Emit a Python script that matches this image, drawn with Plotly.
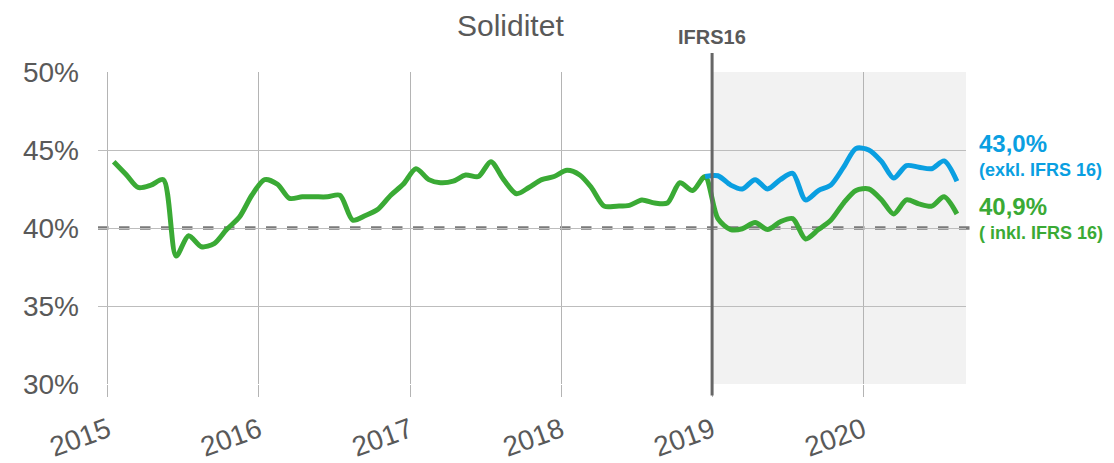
import pandas as pd
import plotly.graph_objects as go

# ---- data ----
dates = pd.date_range("2015-01-01", periods=68, freq="MS") + pd.Timedelta(days=14)
inkl_ifrs16 = [
    44.25, 43.4, 42.6, 42.75, 43.1, 38.2, 39.5, 38.8, 39.0, 39.9, 40.7, 42.1,
    43.1, 42.8, 41.9, 42.0, 42.0, 42.0, 42.1, 40.5, 40.8, 41.2, 42.1, 42.8,
    43.8, 43.1, 42.9, 43.0, 43.4, 43.3, 44.25, 43.1, 42.2, 42.6, 43.1, 43.3,
    43.7, 43.4, 42.6, 41.4, 41.4, 41.45, 41.8, 41.6, 41.6, 42.9, 42.4, 43.3,
    40.6, 39.9, 39.95, 40.35, 39.9, 40.4, 40.6, 39.3, 39.9, 40.5, 41.6, 42.4,
    42.5, 41.8, 40.9, 41.8, 41.55, 41.4, 42.0, 40.9,
]
exkl_start = 47  # Dec 2018
exkl_ifrs16 = [
    43.3, 43.35, 42.75, 42.5, 43.1, 42.5, 43.1, 43.5, 41.8, 42.4, 42.75,
    43.9, 45.1, 45.0, 44.25, 43.2, 44.0, 43.9, 43.8, 44.3, 43.0,
]
year_ticks = ["2015-01-01", "2016-01-01", "2017-01-01", "2018-01-01", "2019-01-01", "2020-01-01"]
year_labels = ["2015", "2016", "2017", "2018", "2019", "2020"]
y_ticks = [30, 35, 40, 45, 50]
ifrs_date = "2019-01-01"
x_range = ["2014-12-08", "2020-09-06"]

GREEN = "#3aaa35"
BLUE = "#0a9fe1"
GREY_TXT = "#595959"
FONT = "Liberation Sans, Arial, sans-serif"

fig = go.Figure()
fig.add_trace(go.Scatter(
    x=dates, y=inkl_ifrs16, mode="lines",
    line=dict(color=GREEN, width=5, shape="spline", smoothing=0.8),
    hoverinfo="skip", showlegend=False,
))
fig.add_trace(go.Scatter(
    x=dates[exkl_start:], y=exkl_ifrs16, mode="lines",
    line=dict(color=BLUE, width=5, shape="spline", smoothing=0.8),
    hoverinfo="skip", showlegend=False,
))

# shaded post-IFRS16 region
fig.add_shape(type="rect", xref="x", yref="paper", x0=ifrs_date, x1=x_range[1],
              y0=0, y1=1, fillcolor="#f2f2f2", line_width=0, layer="below")
# 40% dashed reference line
fig.add_shape(type="line", xref="paper", yref="y", x0=0, x1=1.011, y0=40, y1=40,
              line=dict(color="#7a7a7a", width=3.5, dash="dash"), layer="below")
# IFRS16 vertical line
fig.add_shape(type="line", xref="x", yref="paper", x0=ifrs_date, x1=ifrs_date,
              y0=-0.037, y1=1.061, line=dict(color="#666666", width=3), layer="above")

fig.add_annotation(x=ifrs_date, xref="x", y=1.112, yref="paper", text="<b>IFRS16</b>",
                   showarrow=False, font=dict(family=FONT, size=20, color="#595959"),
                   xanchor="center", yanchor="middle")
fig.add_annotation(x=0.4758, xref="paper", y=1.205, yref="paper", text="Soliditet",
                   showarrow=False, font=dict(family=FONT, size=30, color=GREY_TXT),
                   xanchor="center", yanchor="top", borderpad=0)

# right-hand labels
def px_to_paper_y(py):
    return (384 - py) / 312

fig.add_annotation(x=1.0127, xref="paper", y=px_to_paper_y(143), yref="paper",
                   text="<b>43,0%</b>", showarrow=False, xanchor="left", yanchor="middle",
                   font=dict(family=FONT, size=24, color=BLUE))
fig.add_annotation(x=1.0127, xref="paper", y=px_to_paper_y(170), yref="paper",
                   text="<b>(exkl. IFRS 16)</b>", showarrow=False, xanchor="left", yanchor="middle",
                   font=dict(family=FONT, size=18, color=BLUE))
fig.add_annotation(x=1.0127, xref="paper", y=px_to_paper_y(206), yref="paper",
                   text="<b>40,9%</b>", showarrow=False, xanchor="left", yanchor="middle",
                   font=dict(family=FONT, size=24, color=GREEN))
fig.add_annotation(x=1.0127, xref="paper", y=px_to_paper_y(233), yref="paper",
                   text="<b>( inkl. IFRS 16)</b>", showarrow=False, xanchor="left", yanchor="middle",
                   font=dict(family=FONT, size=18, color=GREEN))

# page body has an 8px default margin; shrink the figure to compensate
fig.update_layout(
    width=1106, height=455,
    margin=dict(l=90, r=148, t=64, b=79, autoexpand=False),
    plot_bgcolor="white", paper_bgcolor="white",
    font=dict(family=FONT, color=GREY_TXT),
    xaxis=dict(
        type="date", range=x_range, tickvals=year_ticks, ticktext=year_labels,
        tickangle=-20, showgrid=True, gridcolor="#b4b4b4", gridwidth=1,
        ticks="outside", ticklen=12, tickcolor="#b4b4b4", tickwidth=1,
        showline=False, zeroline=False, automargin=False, ticklabelstandoff=6,
        tickfont=dict(family=FONT, size=28, color=GREY_TXT),
    ),
    yaxis=dict(
        range=[30, 50], tickvals=y_ticks, ticktext=[f"{v}%" for v in y_ticks],
        showgrid=True, gridcolor="#bdbdbd", gridwidth=1, zeroline=False,
        showline=False, ticks="", ticklabelstandoff=18, automargin=False,
        tickfont=dict(family=FONT, size=28, color=GREY_TXT),
    ),
)

fig.write_html("out.html")
